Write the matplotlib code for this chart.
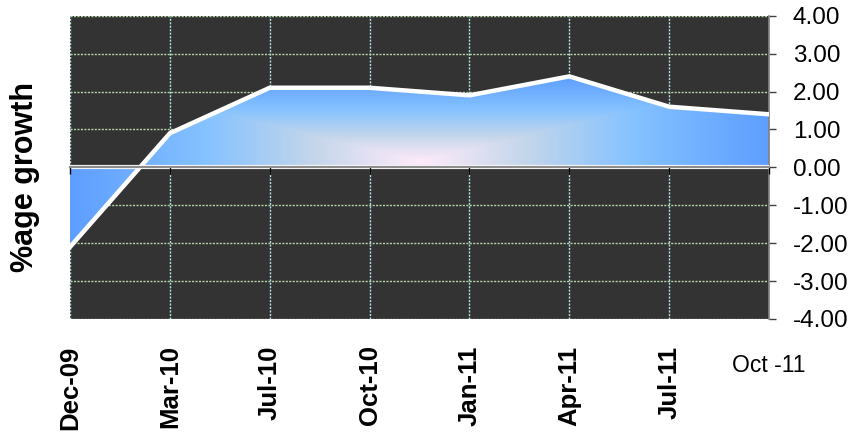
import numpy as np
import matplotlib
matplotlib.use("Agg")
import matplotlib.pyplot as plt
from matplotlib.colors import LinearSegmentedColormap
from matplotlib.transforms import blended_transform_factory

plt.rcParams['font.family'] = ['Liberation Sans', 'DejaVu Sans']

# Quarterly growth figures
categories = ["Dec-09", "Mar-10", "Jul-10", "Oct-10", "Jan-11", "Apr-11", "Jul-11", "Oct -11"]
growth = [-2.1, 0.9, 2.1, 2.1, 1.9, 2.4, 1.6, 1.4]
y_ticks = [-4, -3, -2, -1, 0, 1, 2, 3, 4]

x = np.arange(len(categories))

fig = plt.figure(figsize=(8.56, 4.32), dpi=100)
ax = fig.add_axes([0.0818, 0.2616, 0.8166, 0.702])
ax.set_facecolor('#333333')
ax.set_xlim(x[0], x[-1])
ax.set_ylim(y_ticks[0], y_ticks[-1])

# dotted grid
ax.set_axisbelow(True)
ax.yaxis.grid(True, color='#b4d6a8', linestyle=(0, (1.5, 1)), linewidth=1)
ax.xaxis.grid(True, color='#b2e2e6', linestyle=(0, (1.5, 1)), linewidth=1)

# area filled with a centre-out gradient (pink centre, blue edges)
poly = ax.fill_between(x, 0, growth, color='none', linewidth=0, zorder=2)
ymin, ymax = min(min(growth), 0), max(max(growth), 0)
gx = np.linspace(x[0], x[-1], 700)
gy = np.linspace(ymin, ymax, 300)
GX, GY = np.meshgrid(gx, gy)
cx, cy = (x[0] + x[-1]) / 2, (ymin + ymax) / 2
hx, hy = (x[-1] - x[0]) / 2, (ymax - ymin) / 2
t = np.maximum(np.abs(GX - cx) / hx, np.abs(GY - cy) / hy)
daybreak = LinearSegmentedColormap.from_list(
    'daybreak', [(0.0, '#ffebfa'), (0.30, '#c4d6eb'), (0.61, '#85c2ff'), (1.0, '#5e9eff')])
img = ax.imshow(t, extent=(x[0], x[-1], ymin, ymax), origin='lower', aspect='auto',
                cmap=daybreak, vmin=0, vmax=1, zorder=2, interpolation='bilinear')
img.set_clip_path(poly.get_paths()[0], transform=ax.transData)

# white series line
ax.plot(x, growth, color='white', linewidth=3.2, solid_joinstyle='miter', zorder=4)

# zero axis with downward tick marks
ax.axhline(0, color='white', linewidth=3.0, zorder=3)
zero_ax = ax.secondary_xaxis(0.5)
zero_ax.set_zorder(5)
zero_ax.set_xticks(x)
zero_ax.tick_params(direction='in', length=5, width=1, color='black', labeltop=False)
zero_ax.spines['top'].set_color('#8c8c8c')
zero_ax.spines['top'].set_linewidth(1.6)

# value axis on the right
ax.yaxis.tick_right()
ax.set_yticks(y_ticks)
ax.set_yticklabels([f"{v:.2f}" for v in y_ticks], fontsize=17.5)
ax.tick_params(axis='y', direction='out', length=5, width=1, color='#404040', pad=12)
for side in ('left', 'top', 'bottom'):
    ax.spines[side].set_visible(False)
ax.spines['right'].set_color('#808080')
ax.spines['right'].set_linewidth(1.2)

# category labels along the bottom
ax.set_xticks(x)
ax.set_xticklabels(categories[:-1] + [""], rotation=90, fontweight='bold', fontsize=18.5)
ax.tick_params(axis='x', length=0, pad=19)
ax.text(x[-1], -0.155, categories[-1], transform=blended_transform_factory(ax.transData, ax.transAxes),
        ha='center', va='center', fontsize=16.5)

fig.text(25 / 856, 1 - 177 / 432, "%age growth", rotation=90, fontweight='bold', fontsize=22,
         ha='center', va='center')

fig.savefig("out.png", dpi=100, facecolor='white')
